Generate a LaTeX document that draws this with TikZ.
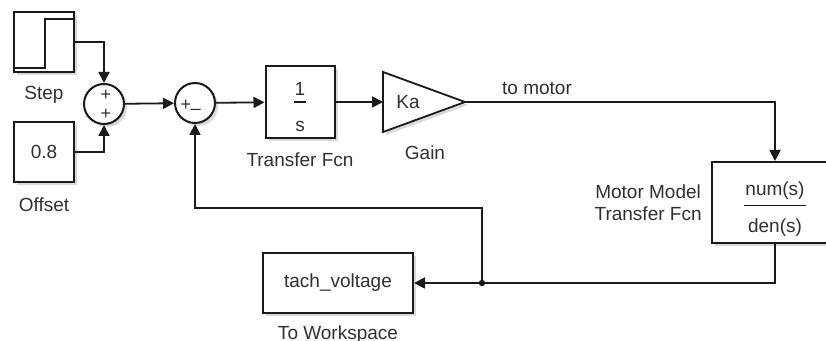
\documentclass[tikz,border=0pt]{standalone}
\usepackage{fontspec}
\setmainfont{Liberation Sans}
\usetikzlibrary{arrows.meta,positioning,shadows,calc}
\definecolor{ink}{HTML}{1A1A1A}
\definecolor{txt}{HTML}{303030}
\tikzset{
  blk/.style={draw=ink,line width=1pt,fill=white,inner sep=0pt,text=txt,
    drop shadow={shadow xshift=1.5pt,shadow yshift=-1.5pt,opacity=.3}},
  sumc/.style={blk,circle,minimum size=20pt},
  lbl/.style={text=txt,inner sep=0pt},
  sgn/.style={lbl,font=\fontsize{9}{10}\selectfont},
  ln/.style={line width=0.9pt,draw=ink},
  ar/.style={ln,-{Triangle[length=5.5pt,width=5.5pt]}},
}

\begin{document}
\begin{tikzpicture}[x=0.5pt,y=0.5pt,font=\fontsize{9.5}{11}\selectfont]
\useasboundingbox (0,0) rectangle (826,-341);
% sources
\node[blk,minimum width=30pt,minimum height=30pt] (step) at (44,-42) {};
\draw[ln] ([yshift=2.5pt]step.south west) -- ++(32,0) -- ++(0,49) coordinate (stephi)
  -- (stephi -| step.east);
\node[lbl,below=6.5pt of step] (steplbl) {Step};
\node[blk,minimum width=30pt,minimum height=30pt] (off) at (44,-152) {0.8};
\node[lbl,below=7pt of off] (offlbl) {Offset};

% sum blocks
\node[sumc] (sum1) at (104,-104) {};
\node[sgn] (s1a) at (106,-95) {+};
\node[sgn] (s1b) at (106,-114) {+};
\node[sumc] (sum2) at (195,-103) {};
\node[sgn] (s2a) at (186,-105) {+};
\node[sgn] (s2b) at (196,-112) {--};

% controller
\node[blk,minimum width=34.5pt,minimum height=36pt] (tf) at (300,-102) {};
\node[lbl] (tfn) at ([yshift=6.5pt]tf.center) {1};
\draw[ln] ([xshift=-3pt]tf.center) -- ([xshift=3pt]tf.center);
\node[lbl] (tfd) at ([yshift=-12pt]tf.center) {s};
\node[lbl,below=6.5pt of tf] (tflbl) {Transfer Fcn};

% gain
\coordinate (gin) at (383,-102);
\coordinate (gout) at (465,-102);
\draw[ln,fill=white,drop shadow={shadow xshift=1.5pt,shadow yshift=-1.5pt,opacity=.3}]
  (gin) ++(0,30) -- (gout) -- ++(-82,-30) -- cycle;
\node[lbl] (ka) at (408,-102) {Ka};
\node[lbl,below=6.5pt] (gainlbl) at (425,-132) {Gain};
\node[lbl] (tomot) at (537,-88) {to motor};

% motor
\node[blk,minimum width=63pt,minimum height=40.5pt] (mot) at (775,-202.5) {};
\node[lbl] (motn) at ([yshift=6pt]mot.center) {num(s)};
\draw[ln] ([xshift=-15.5pt,yshift=-1.5pt]mot.center) -- ([xshift=15.5pt,yshift=-1.5pt]mot.center);
\node[lbl] (motd) at ([yshift=-12.5pt]mot.center) {den(s)};
\node[lbl,left=4.5pt of mot,align=center] (motlbl) {Motor Model\\Transfer Fcn};

% workspace
\node[blk,minimum width=75pt,minimum height=30pt] (ws) at (338,-283) {tach\_voltage};
\node[lbl,below=5.5pt of ws] (wslbl) {To Workspace};

% signal lines
\draw[ar] (step.east) -| (sum1.north);
\draw[ar] (off.east) -| (sum1.south);
\draw[ar] (sum1) -- (sum2);
\draw[ar] (sum2) -- (tf);
\draw[ar] (tf) -- (gin);
\draw[ar] (gout) -| (mot.north);
\draw[ar] (mot.south) |- (ws.east);
\coordinate (jn) at ([xshift=34pt]ws.east);
\draw[ar] (jn) -- (jn |- 0,-208) -| (sum2.south);
\fill[ink] (jn) circle (1.6pt);
\end{tikzpicture}
\end{document}
